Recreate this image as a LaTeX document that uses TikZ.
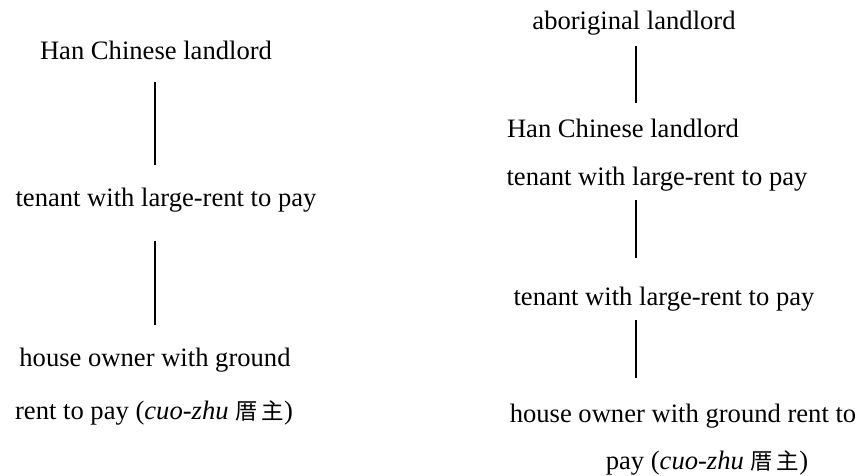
\documentclass[tikz,border=0pt]{standalone}
\usepackage{fontspec}
\setmainfont{Liberation Serif}
\newfontfamily\cjk{Noto Sans CJK SC}
\begin{document}
\begin{tikzpicture}[x=1pt,y=-1pt,
  label/.style={anchor=base,inner sep=0pt,text height=18pt,text depth=6pt,
    font=\fontsize{26.6}{30}\selectfont},
  link/.style={line width=1.4pt}]
\useasboundingbox (0,0) rectangle (858,475);
\newcommand{\cz}{(\textit{cuo-zhu} {\cjk\fontsize{22.5}{24}\selectfont 厝\,主})}
% left chain
\node[label] (l1) at (156,59) {Han Chinese landlord};
\node[label] (l2) at (166,206) {tenant with large-rent to pay};
\node[label] (l3) at (155,366) {house owner with ground};
\node[label] (l4) at (154,419) {rent to pay \cz};
\coordinate (lx) at (155,0);
\draw[link,shorten <=17pt,shorten >=23pt] (l1.south -| lx) -- (l2.north -| lx);
\draw[link,shorten <=29pt,shorten >=23pt] (l2.south -| lx) -- (l3.north -| lx);
% right chain
\node[label] (r1) at (634,29) {aboriginal landlord};
\node[label] (r2) at (623,137) {Han Chinese landlord};
\node[label] (r3) at (657,185) {tenant with large-rent to pay};
\node[label] (r4) at (664,305) {tenant with large-rent to pay};
\node[label] (r5) at (683,422) {house owner with ground rent to};
\node[label] (r6) at (707,469) {pay \cz};
\coordinate (rx) at (636,0);
\draw[link,shorten <=11pt,shorten >=16pt] (r1.south -| rx) -- (r2.north -| rx);
\draw[link,shorten <=9pt,shorten >=29pt] (r3.south -| rx) -- (r4.north -| rx);
\draw[link,shorten <=9pt,shorten >=26pt] (r4.south -| rx) -- (r5.north -| rx);
\end{tikzpicture}
\end{document}
